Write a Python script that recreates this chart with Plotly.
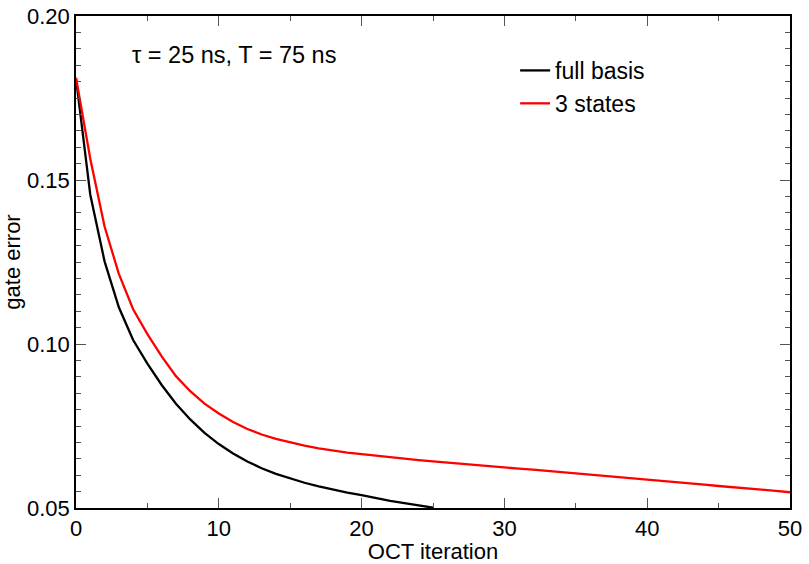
import plotly.graph_objects as go

iter_full = list(range(0, 26))
err_full = [0.181, 0.1455, 0.1252, 0.1112, 0.1012, 0.0940, 0.0875, 0.0818, 0.0770, 0.0729,
            0.0695, 0.0666, 0.0642, 0.0621, 0.0604, 0.0590, 0.0577, 0.0566, 0.0556, 0.0547,
            0.0539, 0.0530, 0.0522, 0.0515, 0.0508, 0.0501]

iter_3 = list(range(0, 51))
err_3 = [0.1812, 0.1565, 0.1358, 0.1214, 0.1106, 0.1030, 0.0962, 0.0902, 0.0856, 0.0818,
         0.0788, 0.0762, 0.0741, 0.0724, 0.0711, 0.0700, 0.0690, 0.0682, 0.0675, 0.0669,
         0.0664, 0.0659, 0.0654, 0.0650, 0.0646, 0.0642, 0.0638, 0.0635, 0.0631, 0.0628,
         0.0624, 0.0620, 0.0617, 0.0613, 0.0609, 0.0606, 0.0602, 0.0598, 0.0594, 0.0590,
         0.0587, 0.0583, 0.0579, 0.0575, 0.0571, 0.0567, 0.0564, 0.0560, 0.0556, 0.0552,
         0.0548]

FONT = "Liberation Sans, Arial, sans-serif"

fig = go.Figure()
fig.add_trace(go.Scatter(x=iter_full, y=err_full, mode="lines", name="full basis",
                         line=dict(color="black", width=2.3)))
fig.add_trace(go.Scatter(x=iter_3, y=err_3, mode="lines", name="3 states",
                         line=dict(color="#ff0000", width=2.3)))

axis_common = dict(
    showline=True, linecolor="black", linewidth=1.5, mirror="ticks",
    ticks="inside", ticklen=10, tickwidth=1.2, tickcolor="#555",
    showgrid=False, zeroline=False, automargin=False,
    tickfont=dict(family=FONT, size=22, color="black"),
)

fig.update_xaxes(range=[0, 50], tick0=0, dtick=10,
                 minor=dict(ticks="inside", ticklen=5, dtick=5, tickcolor="#555", tickwidth=1.2),
                 title=dict(text="OCT iteration", font=dict(family=FONT, size=22, color="black"), standoff=4),
                 **axis_common)
fig.update_yaxes(range=[0.05, 0.20], tick0=0.05, dtick=0.05, tickformat=".2f",
                 minor=dict(ticks="inside", ticklen=5, dtick=0.005, tickcolor="#555", tickwidth=1.2),
                 title=dict(text="gate error", font=dict(family=FONT, size=22, color="black"), standoff=3),
                 **axis_common)

fig.add_annotation(x=0.076, y=0.92, xref="paper", yref="paper", xanchor="left", yanchor="middle",
                   text="τ = 25 ns, T = 75 ns", showarrow=False,
                   font=dict(family=FONT, size=23.5, color="black"))

fig.update_layout(
    width=809, height=564,
    margin=dict(l=76, r=19, t=16, b=56),
    plot_bgcolor="white", paper_bgcolor="white",
    legend=dict(x=0.615, y=0.933, xanchor="left", yanchor="top",
                font=dict(family=FONT, size=23, color="black"),
                bgcolor="rgba(0,0,0,0)", tracegroupgap=0),
)

fig.write_html("out.html")
